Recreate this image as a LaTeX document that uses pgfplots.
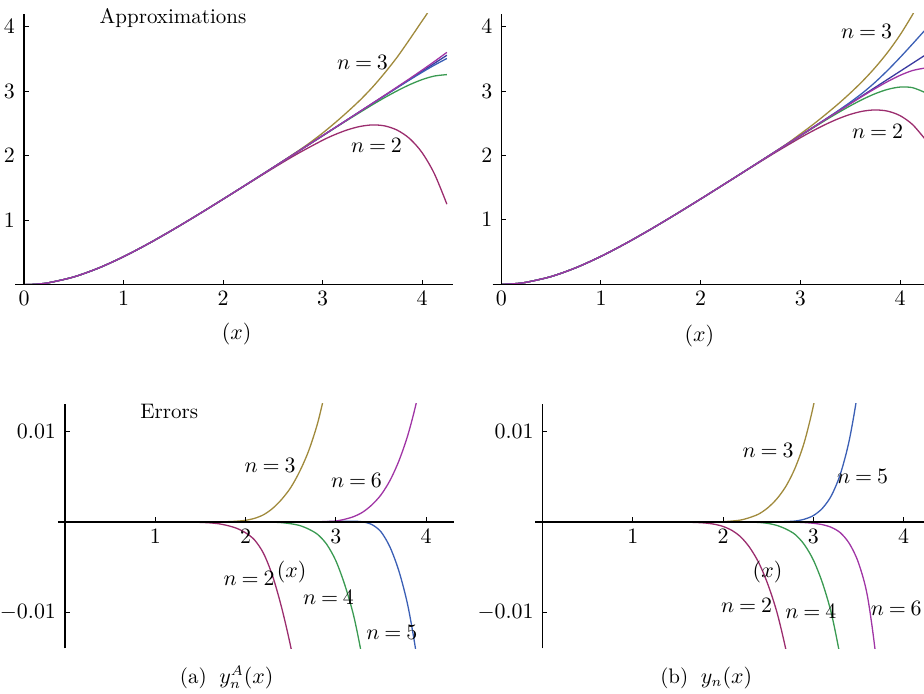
\documentclass[border=0pt]{standalone}
\usepackage{pgfplots}
\pgfplotsset{compat=1.18}
\definecolor{cTwo}{RGB}{155,45,110}
\definecolor{cThree}{RGB}{160,138,60}
\definecolor{cFour}{RGB}{58,154,82}
\definecolor{cFive}{RGB}{59,95,181}
\definecolor{cSix}{RGB}{160,53,165}
\definecolor{cExact}{RGB}{58,58,160}
\pgfplotsset{
  panel/.style={
    scale only axis, axis lines=middle, axis line style={-, line width=0.6pt},
    tick align=inside, major tick length=2.3pt, tick style={black, line width=0.5pt},
    axis on top, clip=true,
    every tick label/.append style={font=\fontsize{10.5}{12}\selectfont},
    yticklabel style={xshift=-1pt},
    hide obscured x ticks=false, hide obscured y ticks=false,
    anchor=south west,
  },
  curve/.style={line width=0.65pt, smooth, no markers},
}
\tikzset{lab/.style={font=\fontsize{10.5}{12}\selectfont, inner sep=0pt}}
\newcommand{\nn}[1]{$n\mskip4mu{=}\mskip4mu#1$}

\begin{document}
\begin{tikzpicture}[x=0.5pt,y=0.5pt]
% ---------------- top left ----------------
\begin{axis}[panel, at={(7.525pt,204.65pt)}, width=218.9pt, height=135.45pt,
  xmin=-0.09, xmax=4.31, ymin=0, ymax=4.2, xtick={0,1,2,3,4}, ytick={1,2,3,4}]
\addplot[curve, cExact] coordinates {(0,0) (0.125,0.00779) (0.25,0.03093) (0.5,0.12011) (0.75,0.25827) (1,0.43378) (1.25,0.63573) (1.5,0.85543) (1.75,1.08660) (2,1.32500) (2.25,1.56790) (2.5,1.81357) (2.75,2.06093) (3,2.30933) (3.125,2.43378) (3.25,2.55836) (3.375,2.68302) (3.5,2.80777) (3.625,2.93256) (3.75,3.05741) (3.875,3.18228) (4,3.30719) (4.125,3.43211) (4.25,3.55706)};
\addplot[curve, cTwo] coordinates {(0,0) (0.125,0.00779) (0.25,0.03093) (0.5,0.12011) (0.75,0.25827) (1,0.43378) (1.25,0.63573) (1.5,0.85543) (1.75,1.08660) (2,1.3238) (2.25,1.5639) (2.5,1.8022) (2.75,2.0312) (3,2.2384) (3.125,2.3272) (3.25,2.4003) (3.375,2.4527) (3.5,2.4768) (3.625,2.4618) (3.75,2.3964) (3.875,2.2663) (4,2.0492) (4.125,1.7181) (4.25,1.2481)};
\addplot[curve, cThree] coordinates {(0,0) (0.125,0.00779) (0.25,0.03093) (0.5,0.12011) (0.75,0.25827) (1,0.43378) (1.25,0.63573) (1.5,0.85543) (1.75,1.08660) (2,1.32500) (2.25,1.56790) (2.5,1.81357) (2.75,2.0689) (2.875,2.2030) (3,2.3493) (3.125,2.5088) (3.25,2.6784) (3.375,2.8580) (3.5,3.0578) (3.625,3.2826) (3.75,3.5274) (3.875,3.8023) (4,4.0872) (4.05,4.2) (4.1,4.35)};
\addplot[curve, cFour] coordinates {(0,0) (0.125,0.00779) (0.25,0.03093) (0.5,0.12011) (0.75,0.25827) (1,0.43378) (1.25,0.63573) (1.5,0.85543) (1.75,1.08660) (2,1.32500) (2.25,1.56790) (2.5,1.81357) (2.75,2.06093) (3,2.3070) (3.25,2.5514) (3.5,2.7878) (3.625,2.9006) (3.75,3.0054) (3.875,3.1003) (4,3.1792) (4.125,3.2351) (4.25,3.2571)};
\addplot[curve, cFive] coordinates {(0,0) (0.125,0.00779) (0.25,0.03093) (0.5,0.12011) (0.75,0.25827) (1,0.43378) (1.25,0.63573) (1.5,0.85543) (1.75,1.08660) (2,1.32500) (2.25,1.56790) (2.5,1.81357) (2.75,2.06093) (3,2.30933) (3.25,2.55836) (3.5,2.80777) (3.75,3.0533) (3.875,3.1744) (4,3.2923) (4.125,3.4046) (4.25,3.5071)};
\addplot[curve, cSix] coordinates {(0,0) (0.125,0.00779) (0.25,0.03093) (0.5,0.12011) (0.75,0.25827) (1,0.43378) (1.25,0.63573) (1.5,0.85543) (1.75,1.08660) (2,1.32500) (2.25,1.56790) (2.5,1.81357) (2.75,2.06093) (3,2.30933) (3.25,2.55836) (3.5,2.8105) (3.75,3.0647) (3.875,3.1941) (4,3.3259) (4.125,3.4613) (4.25,3.6021)};
\end{axis}
% ---------------- top right ----------------
\begin{axis}[panel, at={(246.35pt,204.85pt)}, width=215.65pt, height=135.24pt,
  xmin=-0.086, xmax=4.24, ymin=0, ymax=4.2, xtick={0,1,2,3,4}, ytick={1,2,3,4}]
\addplot[curve, cExact] coordinates {(0,0) (0.125,0.00779) (0.25,0.03093) (0.5,0.12011) (0.75,0.25827) (1,0.43378) (1.25,0.63573) (1.5,0.85543) (1.75,1.08660) (2,1.32500) (2.25,1.56790) (2.5,1.81357) (2.75,2.06093) (3,2.30933) (3.125,2.43378) (3.25,2.55836) (3.375,2.68302) (3.5,2.80777) (3.625,2.93256) (3.75,3.05741) (3.875,3.18228) (4,3.30719) (4.125,3.43211) (4.25,3.55706)};
\addplot[curve, cTwo] coordinates {(0,0) (0.125,0.00779) (0.25,0.03093) (0.5,0.12011) (0.75,0.25827) (1,0.43378) (1.25,0.63573) (1.5,0.85543) (1.75,1.08660) (2,1.3245) (2.25,1.5663) (2.5,1.8087) (2.75,2.0474) (3,2.2757) (3.125,2.3822) (3.25,2.4805) (3.375,2.5673) (3.5,2.6383) (3.625,2.6875) (3.75,2.7075) (3.875,2.6886) (4,2.6186) (4.125,2.4805) (4.25,2.2551)};
\addplot[curve, cThree] coordinates {(0,0) (0.125,0.00779) (0.25,0.03093) (0.5,0.12011) (0.75,0.25827) (1,0.43378) (1.25,0.63573) (1.5,0.85543) (1.75,1.08660) (2,1.32500) (2.25,1.56790) (2.5,1.81357) (2.75,2.0629) (2.875,2.1930) (3,2.3343) (3.125,2.4788) (3.25,2.6334) (3.375,2.7950) (3.5,2.9688) (3.625,3.1566) (3.75,3.3654) (3.875,3.6013) (4,3.8722) (4.13,4.2) (4.2,4.40)};
\addplot[curve, cFour] coordinates {(0,0) (0.125,0.00779) (0.25,0.03093) (0.5,0.12011) (0.75,0.25827) (1,0.43378) (1.25,0.63573) (1.5,0.85543) (1.75,1.08660) (2,1.32500) (2.25,1.56790) (2.5,1.81357) (2.75,2.06093) (3,2.3052) (3.125,2.4265) (3.25,2.5456) (3.375,2.6611) (3.5,2.7710) (3.625,2.8721) (3.75,2.9595) (3.875,3.0263) (4,3.0626) (4.125,3.0531) (4.25,2.9781)};
\addplot[curve, cFive] coordinates {(0,0) (0.125,0.00779) (0.25,0.03093) (0.5,0.12011) (0.75,0.25827) (1,0.43378) (1.25,0.63573) (1.5,0.85543) (1.75,1.08660) (2,1.32500) (2.25,1.56790) (2.5,1.81357) (2.75,2.06093) (3,2.30933) (3.25,2.5624) (3.375,2.6920) (3.5,2.8268) (3.625,2.9726) (3.75,3.1374) (3.875,3.3223) (4,3.5222) (4.125,3.7321) (4.25,3.9471)};
\addplot[curve, cSix] coordinates {(0,0) (0.125,0.00779) (0.25,0.03093) (0.5,0.12011) (0.75,0.25827) (1,0.43378) (1.25,0.63573) (1.5,0.85543) (1.75,1.08660) (2,1.32500) (2.25,1.56790) (2.5,1.81357) (2.75,2.06093) (3,2.30933) (3.25,2.55836) (3.375,2.6805) (3.5,2.8028) (3.625,2.9229) (3.75,3.0390) (3.875,3.1480) (4,3.2444) (4.125,3.3194) (4.25,3.3581)};
\end{axis}
% ---------------- bottom left ----------------
\begin{axis}[panel, at={(29pt,22.85pt)}, width=198pt, height=122.2pt,
  xmin=-0.0775, xmax=4.308, ymin=-0.01396, ymax=0.01304, xtick={1,2,3,4},
  ytick={-0.01,0.01}, yticklabels={$-0.01$,$0.01$}, scaled y ticks=false]
\addplot[curve, cTwo] coordinates {(0,0) (1.2,0) (1.4,-0.00002) (1.5,-0.00005) (1.6,-0.0001) (1.7,-0.0002) (1.8,-0.0004) (1.9,-0.0007) (2.0,-0.0012) (2.1,-0.0020) (2.2,-0.0035) (2.3,-0.0060) (2.4,-0.0095) (2.5,-0.0138) (2.6,-0.019)};
\addplot[curve, cThree] coordinates {(0,0) (1.6,0) (1.8,0.00003) (1.9,0.00008) (2.0,0.00018) (2.1,0.0004) (2.2,0.0008) (2.3,0.0015) (2.4,0.0025) (2.5,0.0038) (2.6,0.0056) (2.7,0.0079) (2.8,0.0110) (2.9,0.0152)};
\addplot[curve, cFour] coordinates {(0,0) (2.1,0) (2.3,-0.00003) (2.4,-0.00008) (2.5,-0.0002) (2.6,-0.0004) (2.7,-0.0008) (2.8,-0.0014) (2.9,-0.0025) (3.0,-0.0043) (3.1,-0.0070) (3.2,-0.0105) (3.3,-0.0155) (3.4,-0.022)};
\addplot[curve, cFive] coordinates {(0,0) (2.7,0) (2.9,0.00003) (3.0,0.00006) (3.1,0.00008) (3.2,0.00008) (3.3,0.0) (3.4,-0.0003) (3.5,-0.0011) (3.6,-0.0028) (3.7,-0.0055) (3.8,-0.0094) (3.9,-0.0152) (4.0,-0.023)};
\addplot[curve, cSix] coordinates {(0,0) (2.6,0) (2.8,0.00002) (2.9,0.00005) (3.0,0.0001) (3.1,0.0003) (3.2,0.0006) (3.3,0.0011) (3.4,0.0019) (3.5,0.0030) (3.6,0.0046) (3.7,0.0068) (3.8,0.0097) (3.9,0.0136) (4.0,0.019)};
\end{axis}
% ---------------- bottom right ----------------
\begin{axis}[panel, at={(267.5pt,22.85pt)}, width=194.5pt, height=122.2pt,
  xmin=-0.085, xmax=4.227, ymin=-0.01396, ymax=0.01304, xtick={1,2,3,4},
  ytick={-0.01,0.01}, yticklabels={$-0.01$,$0.01$}, scaled y ticks=false]
\addplot[curve, cTwo] coordinates {(0,0) (1.4,0) (1.6,-0.00003) (1.7,-0.00006) (1.8,-0.00012) (1.9,-0.00025) (2.0,-0.0005) (2.1,-0.00095) (2.2,-0.0017) (2.3,-0.0029) (2.4,-0.0046) (2.5,-0.0070) (2.6,-0.0101) (2.7,-0.0143) (2.8,-0.0195)};
\addplot[curve, cThree] coordinates {(0,0) (1.7,0) (1.9,0.00001) (2.0,0.00003) (2.1,0.0001) (2.2,0.00022) (2.3,0.0005) (2.4,0.0009) (2.5,0.0016) (2.6,0.0026) (2.7,0.0040) (2.8,0.0060) (2.9,0.0088) (3.0,0.0128) (3.1,0.018)};
\addplot[curve, cFour] coordinates {(0,0) (2.1,0) (2.3,-0.00002) (2.4,-0.00006) (2.5,-0.00017) (2.6,-0.0004) (2.7,-0.0008) (2.8,-0.0014) (2.9,-0.0025) (3.0,-0.0042) (3.1,-0.0067) (3.2,-0.0101) (3.3,-0.0150) (3.4,-0.021)};
\addplot[curve, cFive] coordinates {(0,0) (2.4,0) (2.6,0.00001) (2.7,0.00004) (2.8,0.0001) (2.9,0.0003) (3.0,0.0007) (3.1,0.0015) (3.2,0.0029) (3.3,0.0053) (3.4,0.0091) (3.5,0.0150) (3.6,0.024)};
\addplot[curve, cSix] coordinates {(0,0) (2.6,0) (2.8,-0.00003) (2.9,-0.00007) (3.0,-0.00015) (3.1,-0.0003) (3.2,-0.0006) (3.3,-0.0012) (3.4,-0.0024) (3.5,-0.0045) (3.6,-0.0082) (3.7,-0.0155) (3.8,-0.027)};
\end{axis}
% ---------------- labels ----------------
\node[lab, anchor=base west] at (99.3,670.7) {Approximations};
\node[lab, anchor=base] at (236.7,354) {$(x)$};
\node[lab, anchor=base west] at (336.7,624.7) {\nn{3}};
\node[lab, anchor=base west] at (350.7,541.3) {\nn{2}};
\node[lab, anchor=base west] at (840.7,655) {\nn{3}};
\node[lab, anchor=base west] at (851.7,555) {\nn{2}};
\node[lab, anchor=base] at (699.3,352.3) {$(x)$};
\node[lab, anchor=base west] at (140,275.7) {Errors};
\node[lab, anchor=base west] at (244.3,221.7) {\nn{3}};
\node[lab, anchor=base west] at (330.7,206.3) {\nn{6}};
\node[lab, anchor=base west] at (223.3,108.3) {\nn{2}};
\node[lab, anchor=base] at (291.7,116.3) {$(x)$};
\node[lab, anchor=base west] at (302.7,89) {\nn{4}};
\node[lab, anchor=base west] at (366,54) {\nn{5}};
\node[lab, anchor=base] at (226.7,10.7) {(a)\hspace{0.6em}$y_n^A(x)$};
\node[lab, anchor=base west] at (742.3,236.7) {\nn{3}};
\node[lab, anchor=base west] at (836.7,210.7) {\nn{5}};
\node[lab, anchor=base] at (767.5,116.3) {$(x)$};
\node[lab, anchor=base west] at (720.7,81.3) {\nn{2}};
\node[lab, anchor=base west] at (785,75.7) {\nn{4}};
\node[lab, anchor=base east] at (922,78.3) {\nn{6}};
\node[lab, anchor=base] at (706.2,10.7) {(b)\hspace{0.6em}$y_n(x)$};
\pgfresetboundingbox
\path (0,0) rectangle (924,694);
\end{tikzpicture}
\end{document}
